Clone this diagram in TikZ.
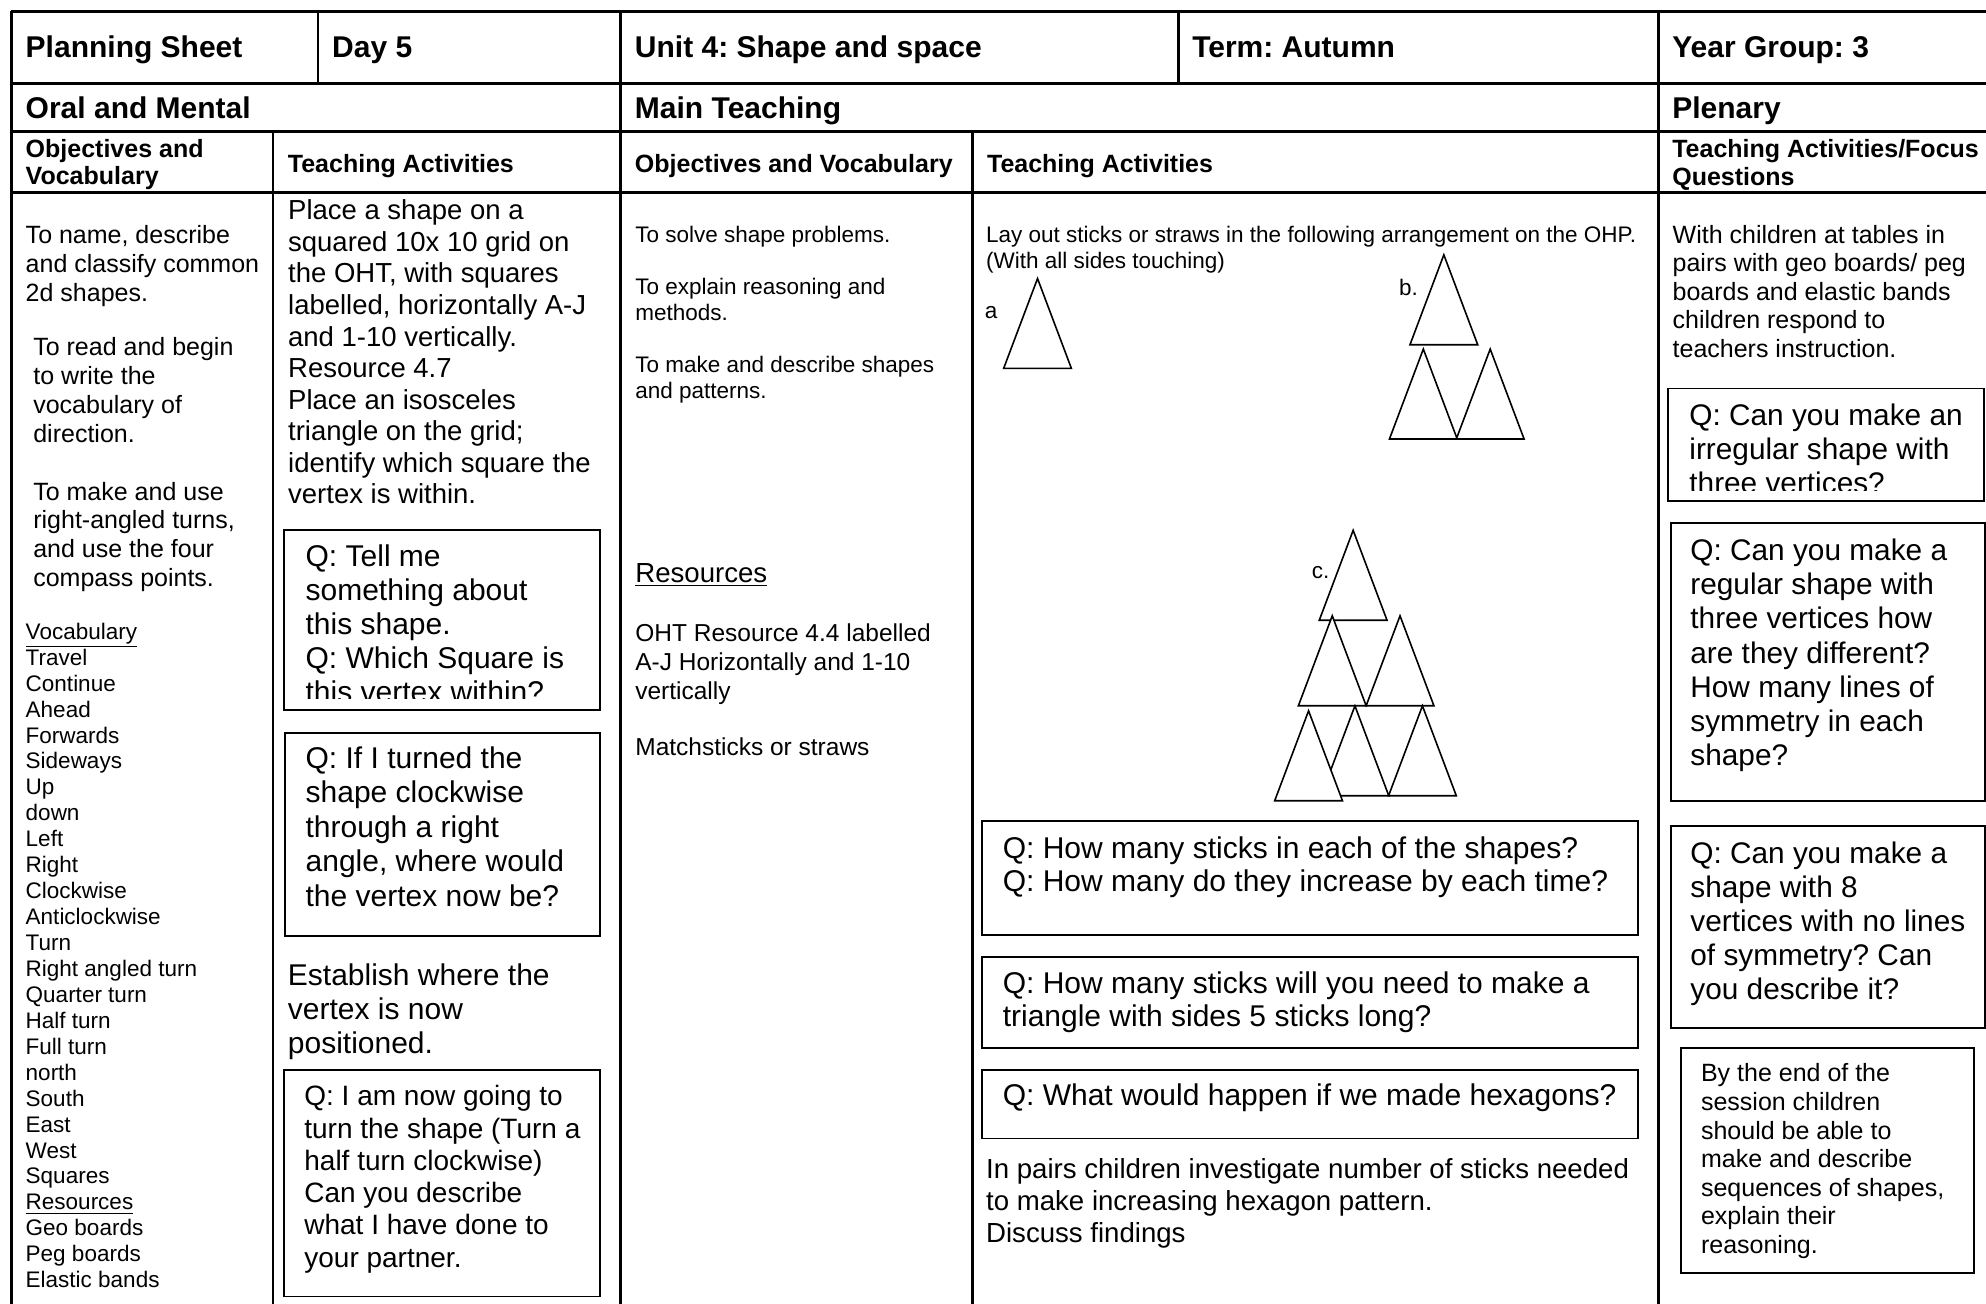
\documentclass[tikz,border=0pt]{standalone}
\usepackage{fontspec}
\setmainfont{Liberation Sans}

\begin{document}
\frenchspacing
\begin{tikzpicture}[x=0.6333pt, y=-0.6333pt,
  txt/.style={anchor=mid west, inner sep=0pt, yshift=-1.6pt},
  fs/.style={font=\fontsize{#1}{#1}\selectfont},
  hd/.style={font=\fontsize{#1}{#1}\selectfont\bfseries},
  tline/.style={line width=1.4pt},
  qbox/.style={line width=0.9pt},
  stick/.style={line width=0.8pt, fill=white}]

 \useasboundingbox (0,0) rectangle (1568,1029);
 \fill[white] (0,0) rectangle (1568,1029);
 \clip (0,0) rectangle (1568,1029);

 %table lines
 \foreach \y in {9,65.8,104,152.3}
    \draw[tline] (9,\y) -- (1575,\y);
 \foreach \x/\ya/\yb in {9/9/1035, 251/9/65.8, 490/9/1035, 930.5/9/65.8, 1309.5/9/1035, 215.5/104/1035, 767.8/104/1035}
    \draw[tline] (\x,\ya) -- (\x,\yb);

 %header rows
 \foreach \tx/\txt/\name in {20/Planning Sheet/hps, 262/Day 5/hday, 501/Unit 4: Shape and space/hunit, 941/Term: Autumn/hterm, 1320/Year Group: 3/hyear}{
    \node[txt, hd=15] (\name) at (\tx,38.5) {\txt};
 }
 \foreach \tx/\txt/\name in {20/Oral and Mental/horal, 501/Main Teaching/hmain, 1320/Plenary/hplen}{
    \node[txt, hd=15] (\name) at (\tx,86.5) {\txt};
 }
 \foreach \tx/\ty/\txt/\name in {20/118/Objectives and/sh1, 20/139/Vocabulary/sh2, 227/129.5/Teaching Activities/sh3, 501/129.5/Objectives and Vocabulary/sh4, 779/129.5/Teaching Activities/sh5, 1320/118/{Teaching Activities/Focus}/sh6, 1320/140/Questions/sh7}{
    \node[txt, hd=12.5] (\name) at (\tx,\ty) {\txt};
 }

 %oral and mental: objectives
 \foreach \txt [count=\i from 0] in {{To name, describe}, and classify common, 2d shapes.}
    \node[txt, fs=12.5] (oa\i) at (20, 185.8+\i*22.9) {\txt};
 \foreach \txt [count=\i from 0] in {To read and begin, to write the, vocabulary of, direction.}
    \node[txt, fs=12.5] (ob\i) at (26, 274+\i*22.8) {\txt};
 \foreach \txt [count=\i from 0] in {To make and use, {right-angled turns,}, and use the four, compass points.}
    \node[txt, fs=12.5] (oc\i) at (26, 388.3+\i*22.6) {\txt};

 %vocabulary
 \foreach \txt [count=\i from 0] in {\underline{Vocabulary}, Travel, Continue, Ahead, Forwards, Sideways, Up, down, Left, Right, Clockwise, Anticlockwise, Turn, Right angled turn, Quarter turn, Half turn, Full turn, north, South, East, West, Squares, \underline{Resources}, Geo boards, Peg boards, Elastic bands}
    \node[txt, fs=11.25] (voc\i) at (20, 498+\i*20.48) {\txt};

 %oral and mental: teaching activities
 \foreach \txt [count=\i from 0] in {Place a shape on a, squared 10x 10 grid on, {the OHT, with squares}, {labelled, horizontally A-J}, and 1-10 vertically., Resource 4.7, Place an isosceles, triangle on the grid;, identify which square the, vertex is within.}
    \node[txt, fs=13.75] (ta\i) at (227.2, 166.9+\i*24.9) {\txt};

 \begin{scope}
    \clip (224.5,418.5) rectangle (474,551.5);
    \foreach \txt [count=\i from 0] in {Q: Tell me, something about, this shape., Q: Which Square is, this vertex within?}
       \node[txt, fs=15] (qa\i) at (241, 440.5+\i*26.8) {\txt};
 \end{scope}
 \draw[qbox] (224.5,418.5) rectangle (474,560.3);

 \foreach \txt [count=\i from 0] in {Q: If I turned the, shape clockwise, through a right, {angle, where would}, the vertex now be?}
    \node[txt, fs=15] (qb\i) at (241, 599.8+\i*27.3) {\txt};
 \draw[qbox] (225,578.7) rectangle (474,738.8);

 \foreach \txt [count=\i from 0] in {Establish where the, vertex is now, positioned.}
    \node[txt, fs=15] (es\i) at (227, 771.4+\i*26.9) {\txt};

 \foreach \txt [count=\i from 0] in {Q: I am now going to, turn the shape (Turn a, half turn clockwise), Can you describe, what I have done to, your partner.}
    \node[txt, fs=14] (qc\i) at (240, 866.3+\i*25.5) {\txt};
 \draw[qbox] (224,844.5) rectangle (474,1023.6);

 %main teaching: objectives
 \foreach \ty/\txt/\name in {184.8/To solve shape problems./mo1, 225.6/To explain reasoning and/mo2, 246/methods./mo3, 287.4/To make and describe shapes/mo4, 307.7/and patterns./mo5}{
    \node[txt, fs=11.25] (\name) at (501.3,\ty) {\txt};
 }
 \node[txt, fs=13.8] (mres) at (501.3,453) {\underline{Resources}};
 \foreach \ty/\txt/\name in {499.6/OHT Resource 4.4 labelled/mr1, 522.5/A-J Horizontally and 1-10/mr2, 545.4/vertically/mr3, 589.6/Matchsticks or straws/mr4}{
    \node[txt, fs=12.25] (\name) at (501.3,\ty) {\txt};
 }

 %main teaching: activities
 \node[txt, fs=11.25] (lay1) at (778.3,184.4) {Lay out sticks or straws in the following arrangement on the OHP.};
 \node[txt, fs=11.25] (lay2) at (778.3,205) {(With all sides touching)};

 %stick triangles
 \def\tw{53.5}
 \def\th{71}
 \foreach \bx/\by/\name in {792.4/290.9/ta, 1113.2/272.2/tb1, 1097/346.6/tb2, 1149.8/346.6/tb3, 1041.6/489.7/tc1, 1025.1/557.2/tc2, 1078.6/557.2/tc3, 1043/628.3/tc4, 1096.3/628.3/tc5, 1006.4/632.2/tc6}
    \draw[stick] (\bx,\by) coordinate (\name) -- ++(\tw/2,-\th) -- ++(\tw/2,\th) -- cycle;
 \node[fs=11.25, inner sep=0pt] (la) at (782.6,246.5) {a};
 \node[fs=11.25, inner sep=0pt] (lb) at (1112.1,227) {b.};
 \node[fs=11.25, inner sep=0pt] (lc) at (1042.7,452.4) {c.};

 \foreach \txt [count=\i from 0] in {Q: How many sticks in each of the shapes?, Q: How many do they increase by each time?}
    \node[txt, fs=15] (qd\i) at (791.4, 671+\i*26.4) {\txt};
 \draw[qbox] (775.5,648.5) rectangle (1293,738.2);
 \foreach \txt [count=\i from 0] in {Q: How many sticks will you need to make a, triangle with sides 5 sticks long?}
    \node[txt, fs=15] (qe\i) at (791.4, 777.7+\i*26.3) {\txt};
 \draw[qbox] (775.5,755.3) rectangle (1293,827.7);
 \node[txt, fs=15] (qf) at (791.4,865.9) {Q: What would happen if we made hexagons?};
 \draw[qbox] (775.5,844.8) rectangle (1293,898.8);

 \foreach \txt [count=\i from 0] in {In pairs children investigate number of sticks needed, to make increasing hexagon pattern., Discuss findings}
    \node[txt, fs=13.8] (pr\i) at (778.3, 924+\i*25) {\txt};

 %plenary
 \foreach \txt [count=\i from 0] in {With children at tables in, {pairs with geo boards/ peg}, boards and elastic bands, children respond to, teachers instruction.}
    \node[txt, fs=12.5] (pl\i) at (1320.3, 185.2+\i*22.6) {\txt};

 \begin{scope}
    \clip (1317.2,306.7) rectangle (1566.5,387);
    \foreach \txt [count=\i from 0] in {Q: Can you make an, irregular shape with, three vertices?}
       \node[txt, fs=14.9] (pq\i) at (1333.5, 329.6+\i*26.6) {\txt};
 \end{scope}
 \draw[qbox] (1317.2,306.7) rectangle (1566.5,395.7);

 \foreach \txt [count=\i from 0] in {Q: Can you make a, regular shape with, three vertices how, are they different?, How many lines of, symmetry in each, shape?}
    \node[txt, fs=14.9] (pr\i) at (1334.3, 435.8+\i*27) {\txt};
 \draw[qbox] (1319,412.8) rectangle (1567.5,632.6);

 \foreach \txt [count=\i from 0] in {Q: Can you make a, shape with 8, vertices with no lines, of symmetry? Can, you describe it?}
    \node[txt, fs=14.9] (ps\i) at (1334.3, 675+\i*26.8) {\txt};
 \draw[qbox] (1319,652.1) rectangle (1567.5,811.4);

 \foreach \txt [count=\i from 0] in {By the end of the, session children, should be able to, make and describe, {sequences of shapes,}, explain their, reasoning.}
    \node[txt, fs=12.5] (pe\i) at (1342.7, 847.4+\i*22.6) {\txt};
 \draw[qbox] (1326.9,827.7) rectangle (1558.8,1005.3);

\end{tikzpicture}
\end{document}
